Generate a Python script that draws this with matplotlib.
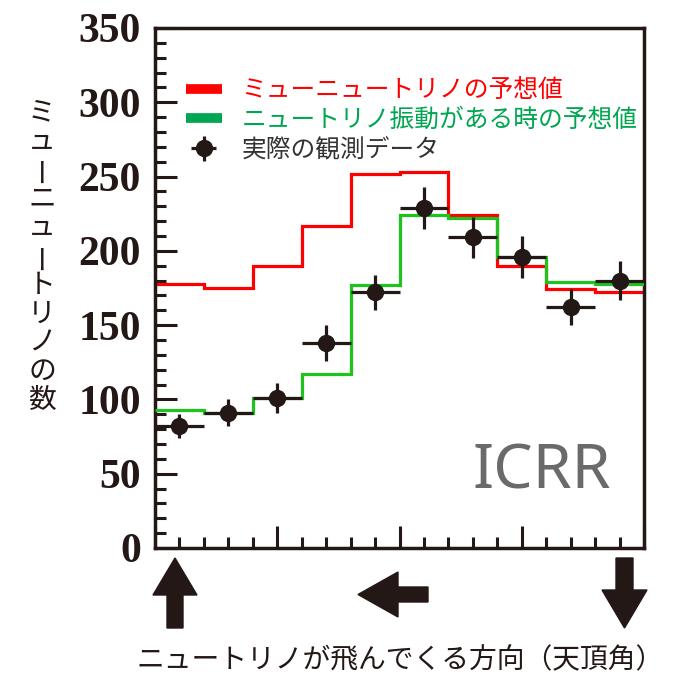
import matplotlib
matplotlib.use("Agg")
import matplotlib.pyplot as plt
import matplotlib.patches as mpatches
from matplotlib.lines import Line2D
from matplotlib.ticker import MultipleLocator
import numpy as np

plt.rcParams['font.family'] = ['Noto Sans CJK JP', 'DejaVu Sans']

# cos(天頂角) のビン境界
bin_edges = [-1.0, -0.8, -0.6, -0.4, -0.2, 0.0, 0.2, 0.4, 0.6, 0.8, 1.0]
bin_centers = [-0.9, -0.7, -0.5, -0.3, -0.1, 0.1, 0.3, 0.5, 0.7, 0.9]

# 予想値（振動なし / 振動あり）
no_osc = [178, 175, 190, 217, 252, 253, 224, 190, 174, 172]
with_osc = [93, 91, 101, 117, 177, 224, 222, 196, 179, 178]

# 実測データ
observed = [82, 91, 101, 138, 172, 229, 209, 196, 162, 180]
observed_err = [8, 9, 10, 12, 12, 14, 14, 14, 12, 13]

yticks = [0, 50, 100, 150, 200, 250, 300, 350]

dark = '#231815'
red = '#ff0000'
green = '#1ec31e'
green_txt = '#00a651'

fig = plt.figure(figsize=(6.73, 6.79), dpi=100)
ax = fig.add_axes([155 / 673, 1 - 548 / 679, 489 / 673, 520 / 679])

ax.stairs(no_osc, bin_edges, baseline=None, color=red, lw=2.3, zorder=2)
ax.stairs(with_osc, bin_edges, baseline=None, color=green, lw=2.3, zorder=3)
eb = ax.errorbar(bin_centers, observed, xerr=0.1, yerr=observed_err, fmt='o',
                 color=dark, ms=11.5, elinewidth=2.3, capsize=0, zorder=4)

ax.set_xlim(-1, 1)
ax.set_ylim(0, 350)
ax.xaxis.set_major_locator(MultipleLocator(0.5))
ax.xaxis.set_minor_locator(MultipleLocator(0.1))
ax.set_yticks(yticks)
ax.yaxis.set_minor_locator(MultipleLocator(10))
ax.set_xticklabels([])
ax.set_yticklabels([str(v) for v in yticks], family='Liberation Serif',
                   fontweight='bold', fontsize=30, color=dark)
ax.tick_params(which='both', direction='in', color=dark, width=2.2,
               top=False, right=False)
ax.tick_params(which='major', length=16, pad=10)
ax.tick_params(which='minor', length=8)
for s in ax.spines.values():
    s.set_color(dark)
    s.set_linewidth(2.5)

handles = [Line2D([], [], color=red, lw=7, solid_capstyle='butt'),
           Line2D([], [], color=green_txt, lw=7, solid_capstyle='butt'),
           eb]
labels = ['ミューニュートリノの予想値', 'ニュートリノ振動がある時の予想値', '実際の観測データ']
leg = ax.legend(handles, labels, loc='upper left', bbox_to_anchor=(0.063, 0.905),
                frameon=False, fontsize=17.8, handlelength=1.45, handletextpad=0.8,
                labelspacing=0.15, borderpad=0, borderaxespad=0,
                labelcolor=[red, green_txt, '#333333'])

ax.text(0.79, 0.145, 'ICRR', transform=ax.transAxes, ha='center', va='center',
        family='Noto Sans', fontsize=45, color='#6a6a6a')

# 縦書きの軸ラベル（1文字ずつ配置、長音符は90度回転）
ylabel_chars = list('ミューニュートリノの数')
ylabel_pos = np.linspace(112, 400, len(ylabel_chars))
for ch, py in zip(ylabel_chars, ylabel_pos):
    rot = 90 if ch == 'ー' else 0
    fig.text(42 / 673, 1 - py / 679, ch, ha='center', va='center',
             fontsize=20, color=dark, rotation=rot)

fig.text(400 / 673, 1 - 660 / 679, 'ニュートリノが飛んでくる方向（天頂角）',
         ha='center', va='center', fontsize=20, color=dark)

# 方向を示す矢印
deco = fig.add_axes([0, 0, 1, 1], zorder=-1)
deco.set_xlim(0, 673)
deco.set_ylim(679, 0)
deco.axis('off')
deco.add_patch(mpatches.FancyArrow(175, 628, 0, -70, width=16, head_width=44,
                                   head_length=37, length_includes_head=True, color=dark))
deco.add_patch(mpatches.FancyArrow(428, 594.5, -70, 0, width=15, head_width=45,
                                   head_length=40, length_includes_head=True, color=dark))
deco.add_patch(mpatches.FancyArrow(624.5, 558, 0, 70, width=17, head_width=45,
                                   head_length=38, length_includes_head=True, color=dark))

fig.savefig('out.png', dpi=100)
